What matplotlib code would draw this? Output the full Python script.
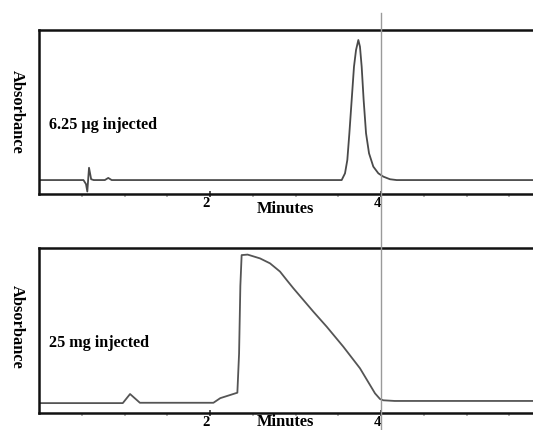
"""Chromatograms of a low and a high injected load."""
from __future__ import annotations

import matplotlib
matplotlib.use("Agg")
import matplotlib.pyplot as plt
from matplotlib.lines import Line2D
from matplotlib.transforms import ScaledTranslation, blended_transform_factory

plt.rcParams["font.family"] = ["Liberation Serif", "DejaVu Serif"]
plt.rcParams["font.weight"] = "bold"

# 6.25 ug trace (minutes, relative absorbance)
LOW_TIME = [0.0, 0.52, 0.55, 0.565, 0.585, 0.61, 0.64, 0.77, 0.81, 0.85,
            3.540, 3.579, 3.606, 3.630, 3.657, 3.684, 3.708, 3.735, 3.754,
            3.774, 3.797, 3.825, 3.860, 3.910, 3.969, 4.027, 4.105, 4.183, 6.4]
LOW_ABS = [0.085, 0.085, 0.06, 0.015, 0.16, 0.09, 0.085, 0.085, 0.098, 0.085,
           0.085, 0.126, 0.207, 0.370, 0.573, 0.776, 0.878, 0.939, 0.898,
           0.776, 0.573, 0.370, 0.248, 0.167, 0.126, 0.106, 0.090, 0.085, 0.085]

# 25 mg trace
HIGH_TIME = [0.0, 0.98, 1.065, 1.18, 2.04, 2.12, 2.32, 2.34, 2.355, 2.37,
             2.44, 2.585, 2.702, 2.819, 2.897, 2.975, 3.092, 3.209, 3.365,
             3.559, 3.754, 3.871, 3.930, 3.988, 4.027, 4.16, 6.4]
HIGH_ABS = [0.06, 0.06, 0.115, 0.062, 0.062, 0.09, 0.123, 0.36, 0.77, 0.957,
            0.96, 0.937, 0.907, 0.857, 0.806, 0.756, 0.685, 0.614, 0.523,
            0.402, 0.271, 0.170, 0.119, 0.085, 0.077, 0.073, 0.073]

MAJOR_TICKS = [2, 4, 6]
MINOR_TICKS = [0.5, 1.0, 1.5, 2.5, 3.0, 3.5, 4.5, 5.0, 5.5]
MARKER_TIME = 4.0

W, H = 533, 430


def style_axes(fig, ax):
    ax.set_xlim(0, 6.4)
    ax.set_ylim(0, 1)
    ax.set_yticks([])
    for side in ("left", "top", "bottom"):
        ax.spines[side].set_linewidth(1.8)
        ax.spines[side].set_color("#111111")
    ax.spines["right"].set_visible(False)
    ax.set_xticks(MAJOR_TICKS)
    ax.set_xticklabels([str(t) for t in MAJOR_TICKS], fontsize=10.5, fontweight="bold")
    ax.set_xticks(MINOR_TICKS, minor=True)
    ax.tick_params(axis="x", which="major", direction="inout", length=5, width=1.2,
                   pad=0, color="#333333")
    ax.tick_params(axis="x", which="minor", direction="out", length=2.5, width=1.2,
                   color="#aaaaaa")
    shift = ScaledTranslation(-4 / 100, 0, fig.dpi_scale_trans)
    for lbl in ax.get_xticklabels():
        lbl.set_transform(lbl.get_transform() + shift)


def main() -> None:
    fig = plt.figure(figsize=(W / 100, H / 100), dpi=100)
    left = 39 / W
    width = 6.4 * 85.5 / W
    ax_top = fig.add_axes([left, (H - 194) / H, width, 164 / H])
    ax_bot = fig.add_axes([left, (H - 413) / H, width, 165 / H])

    ax_top.plot(LOW_TIME, LOW_ABS, color="#4a4a4a", lw=1.3)
    ax_bot.plot(HIGH_TIME, HIGH_ABS, color="#555555", lw=1.3)

    for ax in (ax_top, ax_bot):
        style_axes(fig, ax)

    # vertical marker at 4 min running through both panels
    trans = blended_transform_factory(ax_top.transData, fig.transFigure)
    fig.add_artist(Line2D([MARKER_TIME, MARKER_TIME], [0, 1 - 13 / H], transform=trans,
                          color="#9a9a9a", lw=1.0, zorder=5))

    fs = 11.8
    fig.text(17 / W, 1 - 112 / H, "Absorbance", rotation=-90, ha="center", va="center",
             fontsize=fs, fontweight="bold")
    fig.text(17 / W, 1 - 327 / H, "Absorbance", rotation=-90, ha="center", va="center",
             fontsize=fs, fontweight="bold")
    fig.text(49 / W, 1 - 125 / H, "6.25 µg injected", ha="left", va="center",
             fontsize=11.6, fontweight="bold")
    fig.text(49 / W, 1 - 343 / H, "25 mg injected", ha="left", va="center",
             fontsize=11.6, fontweight="bold")
    fig.text(285 / W, 1 - 209 / H, "Minutes", ha="center", va="center",
             fontsize=fs, fontweight="bold")
    fig.text(285 / W, 1 - 422 / H, "Minutes", ha="center", va="center",
             fontsize=fs, fontweight="bold")

    fig.savefig("out.png", dpi=100)
    plt.close(fig)


if __name__ == "__main__":
    main()
